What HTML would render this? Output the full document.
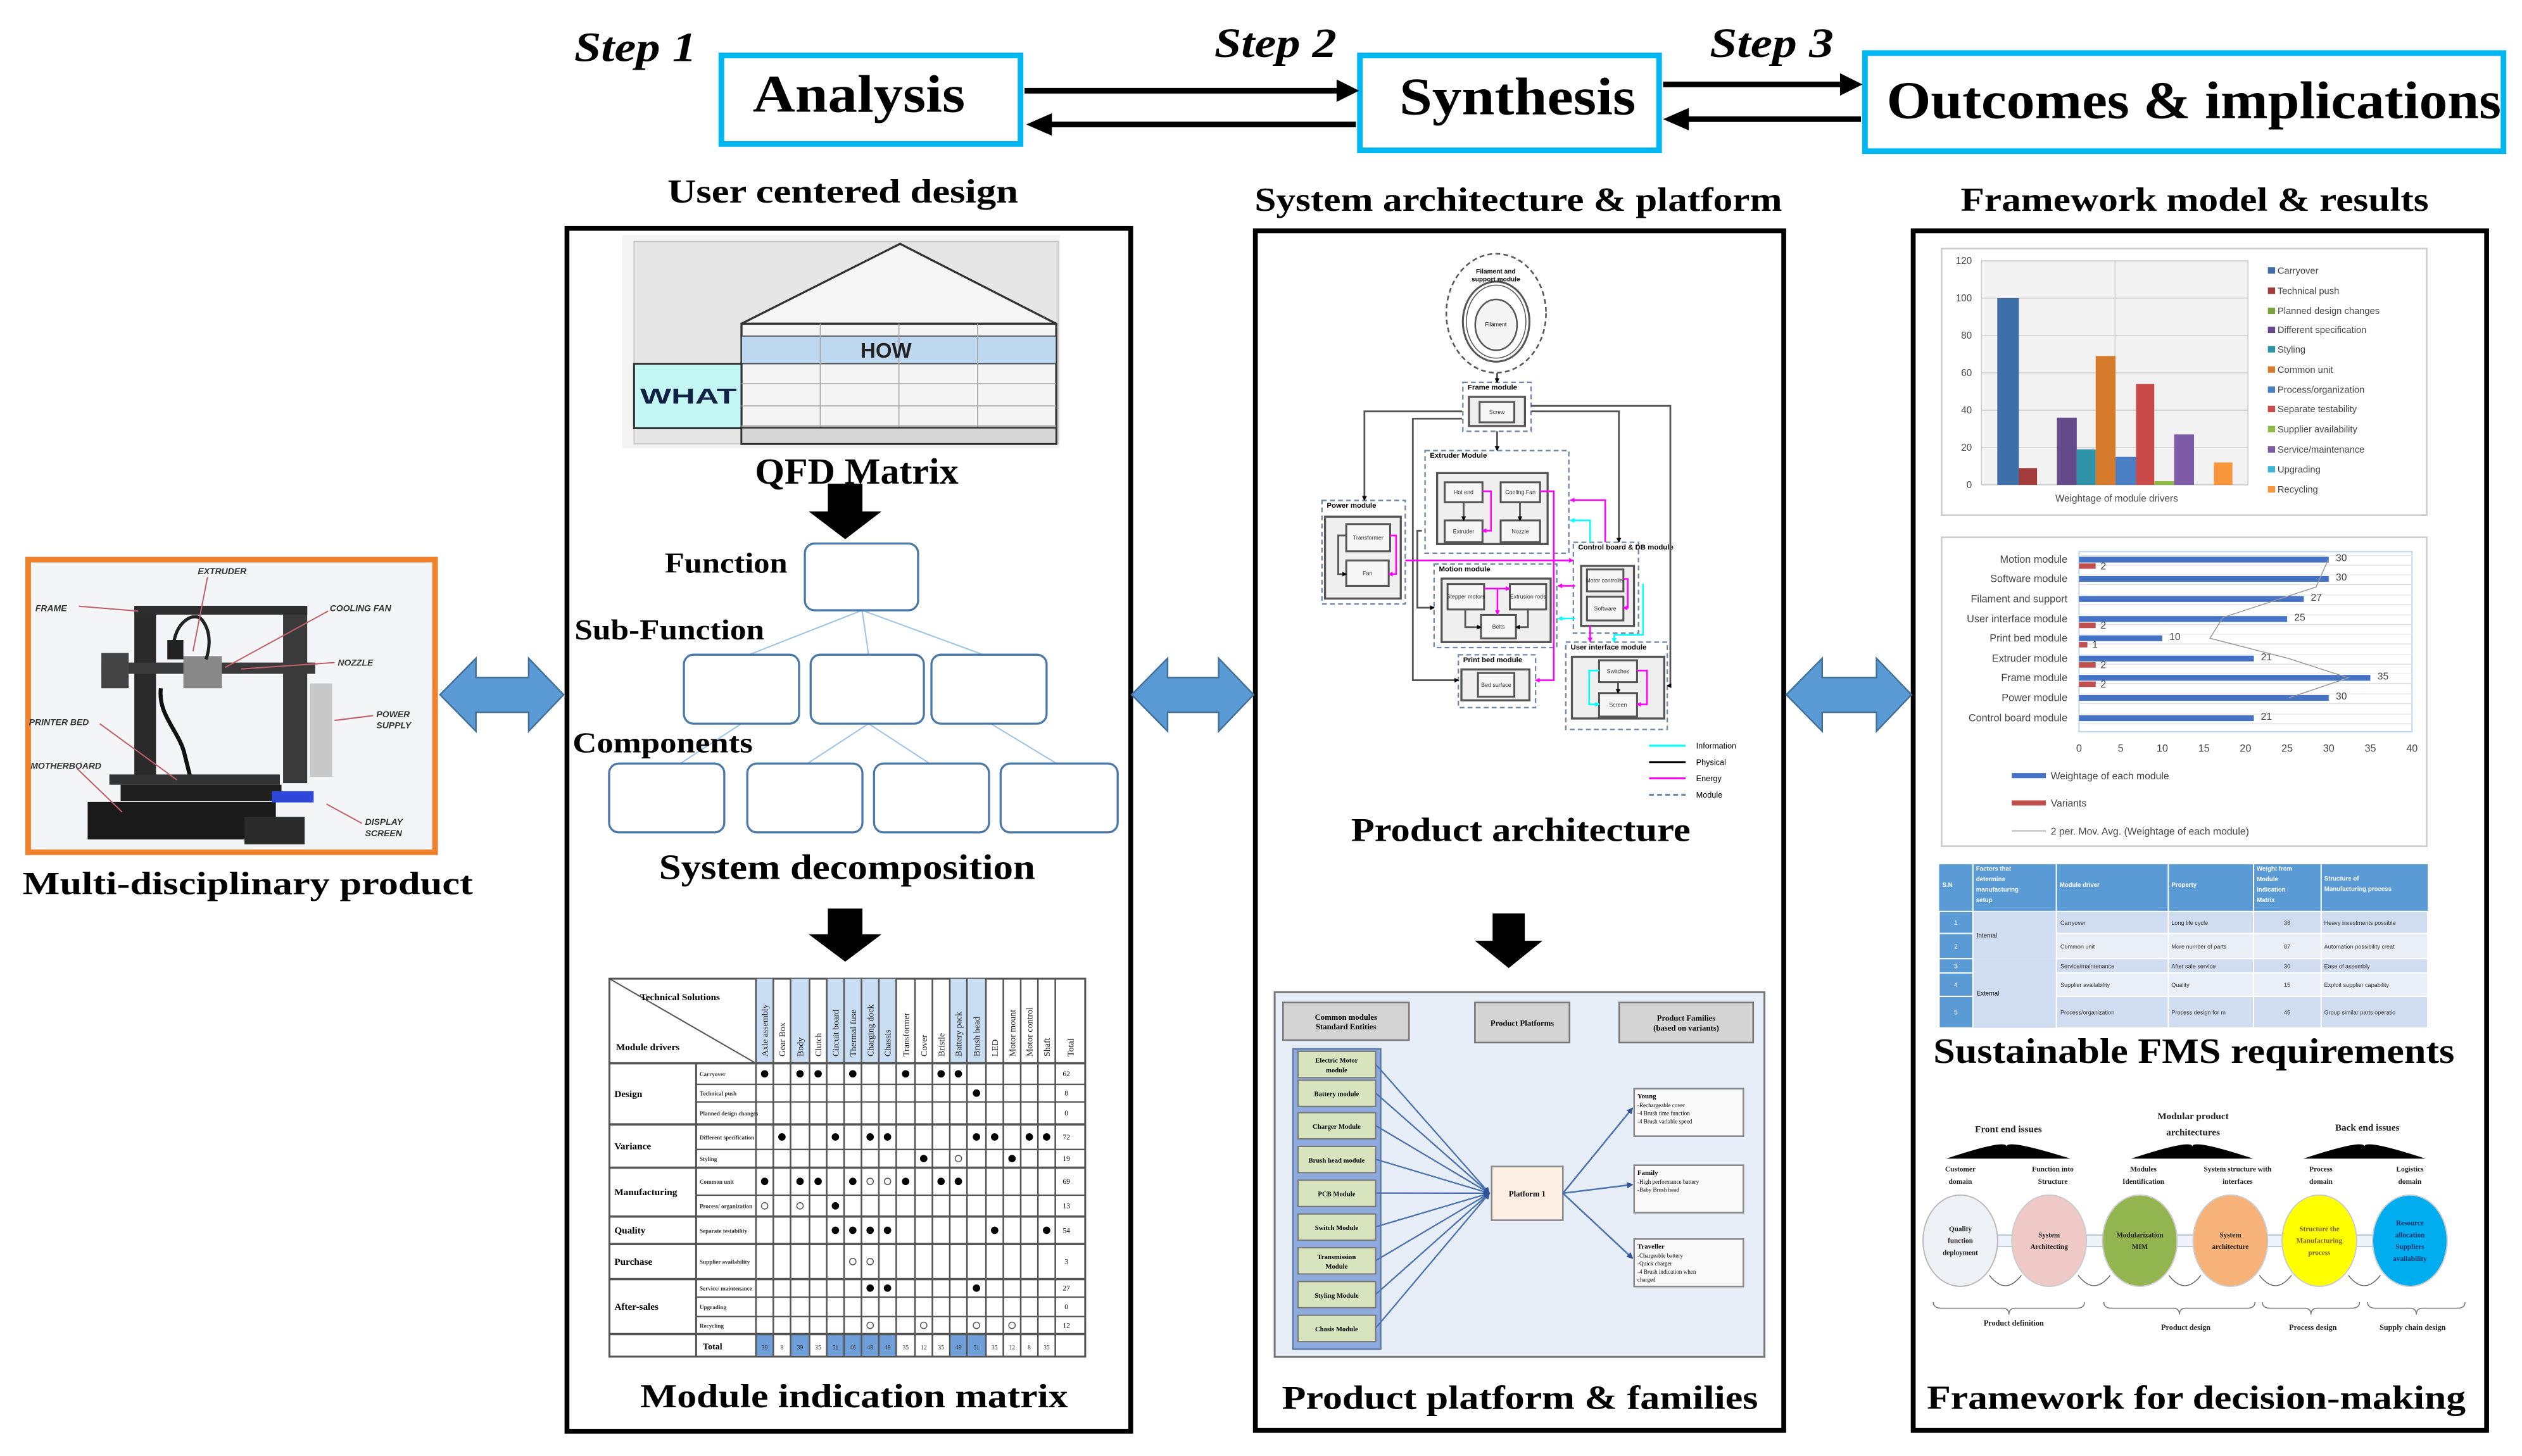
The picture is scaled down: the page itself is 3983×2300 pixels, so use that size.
<!DOCTYPE html>
<html><head><meta charset="utf-8">
<style>
html,body{margin:0;padding:0;background:#fff;}
svg{display:block;}
text{font-family:"Liberation Serif",serif;}
.s{font-family:"Liberation Sans",sans-serif;}
</style></head>
<body>
<svg id="g" xmlns="http://www.w3.org/2000/svg" width="3983" height="2300" viewBox="0 0 1568 905.4" preserveAspectRatio="none">
<defs>
<marker id="sm" markerWidth="3" markerHeight="3" refX="2.5" refY="1.5" orient="auto" markerUnits="userSpaceOnUse"><path d="M0,0 L3,1.5 L0,3 z" fill="#000"/></marker>
<marker id="smm" markerWidth="3" markerHeight="3" refX="2.5" refY="1.5" orient="auto" markerUnits="userSpaceOnUse"><path d="M0,0 L3,1.5 L0,3 z" fill="#f0f"/></marker>
<marker id="smc" markerWidth="3" markerHeight="3" refX="2.5" refY="1.5" orient="auto" markerUnits="userSpaceOnUse"><path d="M0,0 L3,1.5 L0,3 z" fill="#0ff"/></marker>
<marker id="sb" markerWidth="4" markerHeight="4" refX="3.5" refY="2" orient="auto" markerUnits="userSpaceOnUse"><path d="M0,0 L4,2 L0,4 z" fill="#2f5597"/></marker>
</defs>

<rect x="448.5" y="34.5" width="186" height="55" fill="#fff" stroke="#00b7f1" stroke-width="3.5"/>
<rect x="845.5" y="34.5" width="186" height="59" fill="#fff" stroke="#00b7f1" stroke-width="3.5"/>
<rect x="1159.5" y="33" width="397" height="61" fill="#fff" stroke="#00b7f1" stroke-width="3.5"/>
<text x="468" y="69.5" font-size="33" font-weight="bold" textLength="132" lengthAdjust="spacingAndGlyphs">Analysis</text>
<text x="870" y="71" font-size="33" font-weight="bold" textLength="147" lengthAdjust="spacingAndGlyphs">Synthesis</text>
<text x="1173" y="73.5" font-size="33" font-weight="bold" textLength="382" lengthAdjust="spacingAndGlyphs">Outcomes &amp; implications</text>
<text x="357" y="38" font-size="26" font-style="italic" font-weight="bold" textLength="76" lengthAdjust="spacingAndGlyphs">Step 1</text>
<text x="755" y="35.5" font-size="26" font-style="italic" font-weight="bold" textLength="76" lengthAdjust="spacingAndGlyphs">Step 2</text>
<text x="1063" y="35.5" font-size="26" font-style="italic" font-weight="bold" textLength="77" lengthAdjust="spacingAndGlyphs">Step 3</text>
<g stroke="#000" stroke-width="3.5">
<line x1="637" y1="56.4" x2="834" y2="56.4"/>
<line x1="652" y1="77.4" x2="843" y2="77.4"/>
<line x1="1034" y1="52.5" x2="1147" y2="52.5"/>
<line x1="1048" y1="74.1" x2="1157" y2="74.1"/>
</g>
<g fill="#000">
<polygon points="831,49.4 845,56.4 831,63.4"/>
<polygon points="654,70.4 638,77.4 654,84.4"/>
<polygon points="1144,45.5 1158,52.5 1144,59.5"/>
<polygon points="1050,67.1 1034,74.1 1050,81.1"/>
</g>

<text x="415" y="126" font-size="21" font-weight="bold" textLength="218" lengthAdjust="spacingAndGlyphs">User centered design</text>
<text x="780" y="131" font-size="21" font-weight="bold" textLength="328" lengthAdjust="spacingAndGlyphs">System architecture &amp; platform</text>
<text x="1219" y="131" font-size="21" font-weight="bold" textLength="291" lengthAdjust="spacingAndGlyphs">Framework model &amp; results</text>

<rect x="352.5" y="142" width="350.5" height="748" fill="none" stroke="#000" stroke-width="3"/>
<rect x="780.5" y="143.5" width="328.5" height="746" fill="none" stroke="#000" stroke-width="3"/>
<rect x="1189.5" y="143.5" width="356.5" height="746" fill="none" stroke="#000" stroke-width="3"/>

<rect x="17.5" y="348" width="253" height="182" fill="#f4f5f7" stroke="#f0822d" stroke-width="3.5"/>
<g id="printer">
<rect x="83.5" y="377" width="13.5" height="110" fill="#2a2a2a"/>
<rect x="176" y="377" width="15" height="110" fill="#3a3a3a"/>
<rect x="83.5" y="376.7" width="107.5" height="5.5" fill="#2d2d2d"/>
<rect x="192.8" y="425" width="13.7" height="58" fill="#c8c8c8"/>
<rect x="63" y="412" width="133" height="7" fill="#3a3a3a"/>
<rect x="63" y="406" width="17" height="22" fill="#444"/>
<rect x="114" y="408" width="24" height="20" fill="#888"/>
<rect x="104" y="398" width="10" height="12" fill="#222"/>
<path d="M108,400 C110,385 122,380 126,386 C132,394 130,405 128,410" fill="none" stroke="#222" stroke-width="2"/>
<path d="M100,428 C98,445 112,455 115,470 L118,482" fill="none" stroke="#111" stroke-width="2.5"/>
<rect x="68" y="481.6" width="106" height="6.4" fill="#333"/>
<rect x="75" y="488" width="100" height="10" fill="#1f1f1f"/>
<rect x="54.5" y="498.7" width="117" height="23.3" fill="#1a1a1a"/>
<rect x="152" y="508" width="37.4" height="17" fill="#2a2a2a"/>
<rect x="169" y="492" width="26" height="7" fill="#2d48d8"/>
<g stroke="#c0606a" stroke-width="0.8">
<line x1="49" y1="377" x2="86" y2="380"/>
<line x1="129" y1="359" x2="120" y2="405"/>
<line x1="204" y1="380" x2="140" y2="415"/>
<line x1="208" y1="412" x2="150" y2="416"/>
<line x1="62" y1="450" x2="110" y2="485"/>
<line x1="232" y1="445" x2="208" y2="448"/>
<line x1="48" y1="478" x2="76" y2="505"/>
<line x1="225" y1="512" x2="203" y2="500"/>
</g>
<g class="s" font-size="5.5" font-weight="bold" font-style="italic" fill="#333">
<text x="123" y="357" class="s">EXTRUDER</text>
<text x="22" y="380" class="s">FRAME</text>
<text x="205" y="380" class="s">COOLING FAN</text>
<text x="210" y="414" class="s">NOZZLE</text>
<text x="18" y="451" class="s">PRINTER BED</text>
<text x="234" y="446" class="s">POWER</text>
<text x="234" y="453" class="s">SUPPLY</text>
<text x="19" y="478" class="s">MOTHERBOARD</text>
<text x="227" y="513" class="s">DISPLAY</text>
<text x="227" y="520" class="s">SCREEN</text>
</g>
</g>
<text x="14" y="556" font-size="20" font-weight="bold" textLength="280" lengthAdjust="spacingAndGlyphs">Multi-disciplinary product</text>

<g fill="#5b9bd5" stroke="#41719c" stroke-width="1">
<polygon points="273.6,432 295.9,409.4 295.9,421.3 328.7,421.3 328.7,409.4 350.4,432 328.7,454.7 328.7,442.9 295.9,442.9 295.9,454.7"/>
<polygon points="703.6,432 725.9,409.4 725.9,421.3 757.7,421.3 757.7,409.4 779.4,432 757.7,454.7 757.7,442.9 725.9,442.9 725.9,454.7"/>
<polygon points="1110.6,432 1132.9,409.4 1132.9,421.3 1166.7,421.3 1166.7,409.4 1188.4,432 1166.7,454.7 1166.7,442.9 1132.9,442.9 1132.9,454.7"/>
</g>

<rect x="387" y="146" width="272" height="132.7" fill="#f4f4f4"/>
<rect x="394.2" y="150.2" width="263.7" height="125.8" fill="#e6e6e6" stroke="#c8c8c8" stroke-width="0.8"/>
<polygon points="461,201.3 559.6,151.6 656.7,201.3" fill="#f6f6f6" stroke="#333" stroke-width="1.3"/>
<rect x="461" y="201.3" width="195.7" height="74.7" fill="#f5f5f5" stroke="#333" stroke-width="1.3"/>
<rect x="461" y="209" width="195.7" height="17.2" fill="#bdd7ee" stroke="#333" stroke-width="0.6"/>
<rect x="394.2" y="226.2" width="66.8" height="40.1" fill="#c3f7f4" stroke="#333" stroke-width="1.2"/>
<g stroke="#aaa" stroke-width="0.7">
<line x1="461" y1="238.6" x2="656.7" y2="238.6"/><line x1="461" y1="252.4" x2="656.7" y2="252.4"/><line x1="461" y1="264.9" x2="656.7" y2="264.9"/>
<line x1="510" y1="201.3" x2="510" y2="276"/><line x1="558.9" y1="201.3" x2="558.9" y2="276"/><line x1="607.8" y1="201.3" x2="607.8" y2="276"/>
</g>
<rect x="461" y="266" width="195.7" height="10" fill="#d6d6d6" stroke="#333" stroke-width="1"/>
<text x="535" y="222.5" class="s" font-size="13" font-weight="bold" fill="#222">HOW</text>
<text x="398" y="251" class="s" font-size="13.5" font-weight="bold" fill="#124" textLength="60" lengthAdjust="spacingAndGlyphs">WHAT</text>
<text x="469.4" y="300.8" font-size="23" font-weight="bold" textLength="126.5" lengthAdjust="spacingAndGlyphs">QFD Matrix</text>

<polygon points="514.7,300.8 536.2,300.8 536.2,318 548.1,318 525.5,335.3 502.8,318 514.7,318" fill="#000"/>
<polygon points="514.7,565 536.2,565 536.2,581 548.1,581 525.5,598 502.8,581 514.7,581" fill="#000"/>
<polygon points="928,568 948,568 948,585 959,585 938,602 917,585 928,585" fill="#000"/>

<g stroke="#9dc3e6" stroke-width="0.8">
<line x1="536" y1="379.5" x2="466" y2="407"/><line x1="536" y1="379.5" x2="540" y2="407"/><line x1="536" y1="379.5" x2="611" y2="407"/>
<line x1="461" y1="450" x2="423" y2="474.8"/><line x1="540" y1="450" x2="502" y2="474.8"/><line x1="540" y1="450" x2="578" y2="474.8"/><line x1="616" y1="450" x2="657" y2="474.8"/>
</g>
<g fill="#fff" stroke="#4a78a8" stroke-width="1.3">
<rect x="500.4" y="338" width="70.4" height="41.5" rx="6"/>
<rect x="425.2" y="407.1" width="71.6" height="42.9" rx="6"/>
<rect x="504" y="407.1" width="70.4" height="42.9" rx="6"/>
<rect x="579.1" y="407.1" width="71.6" height="42.9" rx="6"/>
<rect x="378.7" y="474.8" width="71.6" height="42.8" rx="6"/>
<rect x="464.6" y="474.8" width="71.6" height="42.8" rx="6"/>
<rect x="543.4" y="474.8" width="71.5" height="42.8" rx="6"/>
<rect x="622.1" y="474.8" width="72.8" height="42.8" rx="6"/>
</g>
<text x="413.3" y="356" font-size="18" font-weight="bold" textLength="76.3" lengthAdjust="spacingAndGlyphs">Function</text>
<text x="357.2" y="397.5" font-size="18" font-weight="bold" textLength="118" lengthAdjust="spacingAndGlyphs">Sub-Function</text>
<text x="356" y="467.9" font-size="18" font-weight="bold" textLength="112" lengthAdjust="spacingAndGlyphs">Components</text>
<text x="409.7" y="546.6" font-size="22" font-weight="bold" textLength="233.9" lengthAdjust="spacingAndGlyphs">System decomposition</text>

<g id="mim"></g>
<text x="398" y="875" font-size="21" font-weight="bold" textLength="266" lengthAdjust="spacingAndGlyphs">Module indication matrix</text>

<g id="arch"></g>
<text x="840" y="523" font-size="21" font-weight="bold" textLength="211" lengthAdjust="spacingAndGlyphs">Product architecture</text>

<g id="plat"></g>
<text x="797" y="876" font-size="21" font-weight="bold" textLength="296" lengthAdjust="spacingAndGlyphs">Product platform  &amp; families</text>

<g id="ch"></g>
<text x="1202" y="661" font-size="22" font-weight="bold" textLength="324" lengthAdjust="spacingAndGlyphs">Sustainable FMS requirements</text>
<g id="fw"></g>
<text x="1198" y="876" font-size="21" font-weight="bold" textLength="335" lengthAdjust="spacingAndGlyphs">Framework for decision-making</text>
</svg>
<script>
var NS="http://www.w3.org/2000/svg";
function E(p,tag,a,t){var e=document.createElementNS(NS,tag);for(var k in a)e.setAttribute(k,a[k]);if(t!==undefined)e.textContent=t;document.getElementById(p).appendChild(e);return e;}
(function(){
var P="mim";
var L=378.9,R=674.7,T=608.6,B=843.6,H=661.2;
E(P,"rect",{x:L,y:T,width:R-L,height:B-T,fill:"#fff",stroke:"#555","stroke-width":1.2});
var cx=[470,480.8,491.5,503.3,514,524.8,535.6,546.4,557.2,568.9,579.7,590.5,601.2,613,623.8,634.6,645.3,656.1,674.7];
var blue=[0,2,4,5,6,7,11,12];
var rows=[661.2,674.3,685.2,699.2,714.8,726.1,743.2,756.5,773.6,795.4,806.6,818.7,829.6,843.6];
blue.forEach(function(c){E(P,"rect",{x:cx[c],y:T,width:cx[c+1]-cx[c],height:H-T,fill:"#c9ddf3"});E(P,"rect",{x:cx[c],y:829.6,width:cx[c+1]-cx[c],height:14,fill:"#6f9fd8"});});
for(var i=0;i<cx.length;i++)E(P,"line",{x1:cx[i],y1:T,x2:cx[i],y2:B,stroke:"#555","stroke-width":1});
var thick=[0,3,5,7,8,9,12];
rows.forEach(function(y,i){E(P,"line",{x1:(thick.indexOf(i)>=0?L:432.8),y1:y,x2:R,y2:y,stroke:"#555","stroke-width":thick.indexOf(i)>=0?1.4:0.9});});
E(P,"line",{x1:432.8,y1:H,x2:432.8,y2:B,stroke:"#555","stroke-width":1.2});
E(P,"line",{x1:L,y1:T,x2:470,y2:H,stroke:"#555","stroke-width":0.8});
E(P,"text",{x:398,y:622,"font-size":6,"font-weight":"bold"},"Technical Solutions");
E(P,"text",{x:383,y:653,"font-size":6,"font-weight":"bold"},"Module drivers");
var tech=["Axle assembly","Gear Box","Body","Clutch","Circuit board","Thermal fuse","Charging dock","Chassis","Transformer","Cover","Bristle","Battery pack","Brush head","LED","Motor mount","Motor control","Shaft"];
for(var c=0;c<17;c++){var x=(cx[c]+cx[c+1])/2+2;E(P,"text",{x:x,y:657,"font-size":5.5,transform:"rotate(-90 "+x+" 657)","fill":"#222"},tech[c]);}
var xt=(cx[17]+cx[18])/2+2;E(P,"text",{x:xt,y:657,"font-size":5.5,transform:"rotate(-90 "+xt+" 657)"},"Total");
var groups=[["Design",0,3],["Variance",3,5],["Manufacturing",5,7],["Quality",7,8],["Purchase",8,9],["After-sales",9,12]];
groups.forEach(function(g){E(P,"text",{x:382,y:(rows[g[1]]+rows[g[2]])/2+2,"font-size":6,"font-weight":"bold"},g[0]);});
var subs=["Carryover","Technical push","Planned design changes","Different specification","Styling","Common unit","Process/ organization","Separate testability","Supplier availability","Service/ maintenance","Upgrading","Recycling"];
subs.forEach(function(s,i){E(P,"text",{x:435,y:(rows[i]+rows[i+1])/2+1.5,"font-size":3.6,"font-weight":"bold",fill:"#333"},s);});
E(P,"text",{x:437,y:839,"font-size":5.5,"font-weight":"bold"},"Total");
var tot=["62","8","0","72","19","69","13","54","3","27","0","12"];
tot.forEach(function(s,i){E(P,"text",{x:663,y:(rows[i]+rows[i+1])/2+1.5,"font-size":4.5,"text-anchor":"middle"},s);});
var F={0:[0,2,3,5,8,10,11],1:[12],3:[1,4,6,7,12,13,15,16],4:[9,14],5:[0,2,3,5,8,10,11],6:[4],7:[4,5,6,7,13,16],9:[6,7,12]};
var O={4:[11],5:[6,7],6:[0,2],8:[5,6],11:[6,9,12,14]};
function cc(c){return (cx[c]+cx[c+1])/2;}
for(var r in F)F[r].forEach(function(c){E(P,"circle",{cx:cc(c),cy:(rows[r]+rows[+r+1])/2,r:2.3,fill:"#000"});});
for(var r in O)O[r].forEach(function(c){E(P,"circle",{cx:cc(c),cy:(rows[r]+rows[+r+1])/2,r:2,fill:"none",stroke:"#555","stroke-width":0.6});});
var tv=["39","8","39","35","51","46","48","48","35","12","35","48","51","35","12","8","35"];
for(var c=0;c<17;c++)E(P,"text",{x:cc(c),y:839,"font-size":3.8,"text-anchor":"middle",fill:"#333"},tv[c]);
})();
(function(){
var P="arch";
function dbox(x1,y1,x2,y2,lab){E(P,"rect",{x:x1,y:y1,width:x2-x1,height:y2-y1,fill:"none",stroke:"#6f87a8","stroke-width":0.9,"stroke-dasharray":"3,2"});if(lab)E(P,"text",{x:x1+3,y:y1+4.5,"font-size":4.5,"font-weight":"bold",class:"s"},lab);}
function gbox(x1,y1,x2,y2){E(P,"rect",{x:x1,y:y1,width:x2-x1,height:y2-y1,fill:"#efefef",stroke:"#555","stroke-width":1.3});}
function ibox(x1,y1,x2,y2,lab){E(P,"rect",{x:x1,y:y1,width:x2-x1,height:y2-y1,fill:"#f7f7f7",stroke:"#555","stroke-width":1.2});E(P,"text",{x:(x1+x2)/2,y:(y1+y2)/2+1.2,"font-size":3.5,"text-anchor":"middle",class:"s",fill:"#333"},lab);}
function ln(pts,col,mk){E(P,"polyline",{points:pts,fill:"none",stroke:col,"stroke-width":col=="#555"?1.1:1,"marker-end":"url(#"+mk+")"});}
E(P,"ellipse",{cx:930.2,cy:194.8,rx:31,ry:37,fill:"none",stroke:"#555","stroke-width":1,"stroke-dasharray":"3,2"});
E(P,"ellipse",{cx:930.2,cy:200,rx:20.7,ry:24.9,fill:"none",stroke:"#555","stroke-width":1.2});
E(P,"ellipse",{cx:930.2,cy:200,rx:18.5,ry:22.7,fill:"none",stroke:"#555","stroke-width":0.6});
E(P,"ellipse",{cx:930.2,cy:202,rx:13,ry:15.8,fill:"#f5f5f5",stroke:"#555","stroke-width":1});
E(P,"text",{x:930,y:170,"font-size":4,"text-anchor":"middle",class:"s","font-weight":"bold"},"Filament and");
E(P,"text",{x:930,y:175,"font-size":4,"text-anchor":"middle",class:"s","font-weight":"bold"},"support module");
E(P,"text",{x:930,y:203,"font-size":3.5,"text-anchor":"middle",class:"s"},"Filament");
dbox(909.5,237.7,951.9,268.2,"Frame module");
gbox(913.3,246.8,948.1,264.9);ibox(919.9,250,941.5,262.6,"Screw");
dbox(886,280.2,975.4,344,"Extruder Module");
gbox(893.5,294.2,962.2,338.3);
ibox(898.2,299.9,921.7,312.3,"Hot end");ibox(933,299.9,957.5,312.3,"Cooling Fan");
ibox(898.2,323.6,921.7,337.2,"Extruder");ibox(933,323.6,957.5,337.2,"Nozzle");
dbox(821.9,311.2,873.7,375.6,"Power module");
gbox(823.8,321.3,870.9,372.2);
ibox(837,325.9,864.3,342.8,"Transformer");ibox(837,348.5,863.4,364.3,"Fan");
dbox(891.6,350.7,967.9,402.7,"Motion module");
gbox(896.3,359.8,964.1,399.3);
ibox(900,363.2,922.7,379,"Stepper motors");ibox(938.7,363.2,961.3,379,"Extrusion rods");ibox(920.8,382.4,942.5,397,"Belts");
dbox(906.7,407.2,954.7,440,"Print bed module");
gbox(908.6,416.3,950.9,435.5);ibox(918.9,418.5,941.5,433.2,"Bed surface");
dbox(978.2,337.2,1018.7,393.7,"Control board & DB module");
gbox(983,351.9,1015.9,389.2);
ibox(986.7,354.1,1009.3,367.7,"Motor controller");ibox(986.7,371,1009.3,385.8,"Software");
dbox(973.5,399.3,1036.6,453.6,"User interface module");
gbox(977.3,408.4,1034.7,446.8);
ibox(994.2,410.6,1017.8,424.2,"Switches");ibox(994.2,431,1017.8,445.6,"Screen");
var k="#555";
ln("930.8,232 930.8,237.7",k,"sm");
ln("930.8,268.2 930.8,280",k,"sm");
ln("909,255.8 848.3,255.8 848.3,311",k,"sm");
ln("909,260.3 878.4,260.3 878.4,423 906.7,423",k,"sm");
ln("884,330 881.2,330 881.2,377.9 891.6,377.9",k,"sm");
ln("952,255.8 1006.5,255.8 1006.5,337",k,"sm");
ln("952,252.4 1038.5,252.4 1038.5,426.4 1036.6,426.4",k,"sm");
ln("910,312 910,323.6",k,"sm");ln("945,312 945,323.6",k,"sm");ln("1006,424.2 1006,431",k,"sm");
ln("911,379 911,390 920.8,390",k,"sm");ln("950,379 950,390 942.5,390",k,"sm");
var m="#f0f",c="#0ff";
ln("873.7,348.5 978,348.5",m,"smm");
ln("957.5,305.5 966,305.5 966,423 954.7,423",m,"smm");
ln("921.7,305.5 927,305.5 927,330 921.7,330",m,"smm");
ln("998,337 998,311 976.4,311",m,"smm");
ln("988.6,337 988.6,323.6 976.4,323.6",c,"smc");
ln("979.2,364.3 968.8,364.3",m,"smm");
ln("979.2,384.6 968.8,384.6",c,"smc");
ln("1021.5,363 1021.5,394.8 1003.6,394.8 1003.6,399.3",c,"smc");
ln("988.6,389 988.6,399",m,"smm");
ln("922.7,366 938.7,366",m,"smm");ln("931,366 931,382",m,"smm");
ln("864.3,333 868,333 868,357 863.4,357",m,"smm");
ln("1009.3,360 1012,360 1012,378 1009.3,378",m,"smm");
ln("1017.8,417 1024,417 1024,438 1017.8,438",m,"smm");
ln("994.2,417 988,417 988,438 994.2,438",c,"smc");
ln("837,333 832,333 832,357 837,357",k,"sm");
var leg=[["#0ff","Information"],["#000","Physical"],["#f0f","Energy"],["#6f87a8","Module"]],ly=[463.7,473.9,484,494.2];
leg.forEach(function(l,i){var a={x1:1025.3,y1:ly[i],x2:1048,y2:ly[i],stroke:l[0],"stroke-width":1.2};if(i==3)a["stroke-dasharray"]="3,2";E(P,"line",a);E(P,"text",{x:1054.5,y:ly[i]+1.8,"font-size":5,class:"s"},l[1]);});
})();
(function(){
var P="plat";
E(P,"rect",{x:792.5,y:617,width:304.5,height:226.7,fill:"#e8eef8",stroke:"#777","stroke-width":1.2});
function hb(x1,y1,x2,y2,l1,l2){E(P,"rect",{x:x1,y:y1,width:x2-x1,height:y2-y1,fill:"#d4d4d4",stroke:"#777","stroke-width":1});var cx=(x1+x2)/2;if(l2){E(P,"text",{x:cx,y:(y1+y2)/2-1,"font-size":5,"text-anchor":"middle","font-weight":"bold"},l1);E(P,"text",{x:cx,y:(y1+y2)/2+5,"font-size":5,"text-anchor":"middle","font-weight":"bold"},l2);}else E(P,"text",{x:cx,y:(y1+y2)/2+2,"font-size":5,"text-anchor":"middle","font-weight":"bold"},l1);}
hb(797.7,623.4,876,646.8,"Common modules","Standard Entities");
hb(917,623.4,975.8,648.3,"Product Platforms");
hb(1006.7,623.4,1090,648.3,"Product Families","(based on variants)");
E(P,"rect",{x:803.9,y:652.2,width:54.5,height:186.8,fill:"#8faadc",stroke:"#5d7aa8","stroke-width":1});
var tops=[653.8,671.7,691.9,712.9,733.9,754.9,775.9,796.9,817.9];
var labs=[["Electric Motor","module"],["Battery module"],["Charger Module"],["Brush head module"],["PCB Module"],["Switch Module"],["Transmission","Module"],["Styling Module"],["Chasis Module"]];
tops.forEach(function(t,i){E(P,"line",{x1:855.3,y1:t+8,x2:926,y2:742,stroke:"#4a72b0","stroke-width":0.9,"marker-end":"url(#sb)"});});
tops.forEach(function(t,i){E(P,"rect",{x:807,y:t,width:48.3,height:16.3,fill:"#d7e4bd",stroke:"#777","stroke-width":0.8});var l=labs[i];if(l.length==2){E(P,"text",{x:831,y:t+7,"font-size":4.2,"text-anchor":"middle","font-weight":"bold"},l[0]);E(P,"text",{x:831,y:t+13,"font-size":4.2,"text-anchor":"middle","font-weight":"bold"},l[1]);}else E(P,"text",{x:831,y:t+10,"font-size":4.2,"text-anchor":"middle","font-weight":"bold"},l[0]);});
E(P,"rect",{x:927.4,y:725.4,width:44.3,height:33.4,fill:"#fdefe4",stroke:"#888","stroke-width":1});
E(P,"text",{x:949.5,y:744,"font-size":5,"text-anchor":"middle","font-weight":"bold"},"Platform 1");
var fam=[[677,"Young",["-Rechargeable cover","-4 Brush time function","-4 Brush variable speed"]],[724.6,"Family",["-High performance battery","-Baby Brush head"]],[770.5,"Traveller",["-Chargeable battery","-Quick charger","-4 Brush indication when","charged"]]];
fam.forEach(function(f){E(P,"line",{x1:971.7,y1:742,x2:1015,y2:f[0]+12,stroke:"#4a72b0","stroke-width":1,"marker-end":"url(#sb)"});E(P,"rect",{x:1016,y:f[0],width:67.9,height:29.5,fill:"#fafafa",stroke:"#888","stroke-width":1});E(P,"text",{x:1018,y:f[0]+6,"font-size":4.3,"font-weight":"bold"},f[1]);f[2].forEach(function(s,j){E(P,"text",{x:1018,y:f[0]+11.5+j*5,"font-size":3.6},s);});});
})();
(function(){
var P="ch";
E(P,"rect",{x:1207.2,y:154.6,width:301.6,height:165.7,fill:"#fff",stroke:"#ccc","stroke-width":1});
E(P,"rect",{x:1231.9,y:162.2,width:165.7,height:139.3,fill:"#f2f2f2",stroke:"#ccc","stroke-width":0.6});
for(var v=0;v<=120;v+=20){var y=301.5-v*1.161;E(P,"line",{x1:1231.9,y1:y,x2:1397.6,y2:y,stroke:"#d0d0d0","stroke-width":0.6});E(P,"text",{x:1226,y:y+2,"font-size":6,"text-anchor":"end",class:"s",fill:"#444"},""+v);}
E(P,"line",{x1:1315,y1:162.2,x2:1315,y2:301.5,stroke:"#d0d0d0","stroke-width":0.6});
var bars=[[218,283,100,"#3c6ea8"],[283,338,9,"#a33b3a"],[398,458,36,"#644a8a"],[458,515,19,"#2e93a8"],[515,575,69,"#d67b2c"],[575,637,15,"#4a7fc6"],[637,692,54,"#c94a48"],[692,752,2,"#8dbb45"],[752,812,27,"#7d5ba6"],[872,928,12,"#f7963b"]];
bars.forEach(function(b){var x1=1196.9+b[0]/4.857,x2=1196.9+b[1]/4.857,h=b[2]*1.161;E(P,"rect",{x:x1,y:301.5-h,width:x2-x1,height:h,fill:b[3]});});
E(P,"text",{x:1316,y:312,"font-size":6,"text-anchor":"middle",class:"s",fill:"#444"},"Weightage of module drivers");
var lg=[["#3c6ea8","Carryover"],["#a33b3a","Technical push"],["#7ba33c","Planned design changes"],["#644a8a","Different specification"],["#2e93a8","Styling"],["#d67b2c","Common unit"],["#4a7fc6","Process/organization"],["#c94a48","Separate testability"],["#8dbb45","Supplier availability"],["#7d5ba6","Service/maintenance"],["#3fb4d4","Upgrading"],["#f7963b","Recycling"]];
var ly=[168.4,181,193.5,205.3,217.4,230,242.5,254.5,267,279.7,292,304.5];
lg.forEach(function(l,i){E(P,"rect",{x:1410,y:ly[i]-2.2,width:4.5,height:4,fill:l[0]});E(P,"text",{x:1416,y:ly[i]+1.8,"font-size":5.8,class:"s",fill:"#444"},l[1]);});
E(P,"rect",{x:1207.2,y:334.1,width:301.6,height:192.1,fill:"#fff",stroke:"#ccc","stroke-width":1});
E(P,"rect",{x:1292.6,y:343,width:207,height:112,fill:"#fff",stroke:"#bdd7ee","stroke-width":0.8});
var ry=[348,360,372.5,384.9,396.9,409.5,421.5,434,446.6];
var names=["Motion module","Software module","Filament and support","User interface module","Print bed module","Extruder module","Frame module","Power module","Control board module"];
var vals=[30,30,27,25,10,21,35,30,21],var2=[2,0,0,2,1,2,2,0,0];
ry.forEach(function(y,i){E(P,"line",{x1:1292.6,y1:y+3.5,x2:1499.6,y2:y+3.5,stroke:"#e0e0e0","stroke-width":0.6});E(P,"line",{x1:1292.6,y1:y-2.5,x2:1499.6,y2:y-2.5,stroke:"#e8e8e8","stroke-width":0.5});
E(P,"rect",{x:1292.6,y:y-1.8,width:vals[i]*5.175,height:3.6,fill:"#4472c4"});
E(P,"text",{x:1295+vals[i]*5.175+2,y:y+1,"font-size":6.2,class:"s",fill:"#444"},""+vals[i]);
if(var2[i]){E(P,"rect",{x:1292.6,y:y+2.3,width:var2[i]*5.175,height:3.4,fill:"#c0504d"});E(P,"text",{x:1292.6+var2[i]*5.175+3,y:y+6,"font-size":6.2,class:"s",fill:"#444"},""+var2[i]);}
E(P,"text",{x:1285.4,y:y+2,"font-size":6.4,"text-anchor":"end",class:"s",fill:"#444"},names[i]);});
for(var t=0;t<=40;t+=5)E(P,"text",{x:1292.6+t*5.175,y:467.5,"font-size":6.4,"text-anchor":"middle",class:"s",fill:"#444"},""+t);
E(P,"polyline",{points:"1447.5,348 1440,365 1382,384 1374,396.9 1423,409.5 1460,421.5 1423,434",fill:"none",stroke:"#999","stroke-width":0.6});
E(P,"line",{x1:1250.8,y1:482.3,x2:1272,y2:482.3,stroke:"#4472c4","stroke-width":3.2});
E(P,"text",{x:1275,y:484.5,"font-size":6.2,class:"s",fill:"#444"},"Weightage of each module");
E(P,"line",{x1:1250.8,y1:499.3,x2:1272,y2:499.3,stroke:"#c0504d","stroke-width":3.2});
E(P,"text",{x:1275,y:501.5,"font-size":6.2,class:"s",fill:"#444"},"Variants");
E(P,"line",{x1:1250.8,y1:516.7,x2:1272,y2:516.7,stroke:"#999","stroke-width":0.6});
E(P,"text",{x:1275,y:519,"font-size":6.2,class:"s",fill:"#444"},"2 per. Mov. Avg. (Weightage of each module)");
var cxs=[1205.6,1226.6,1278.5,1348.1,1401.1,1443.1,1509.4];
var rys=[566.8,580.5,596.1,605,619.6,639.2];
E(P,"rect",{x:1205.6,y:537.4,width:303.8,height:29.4,fill:"#5b9bd5"});
var rf=["#d0dcef","#e9eef7","#d0dcef","#e9eef7","#d0dcef"];
for(var r=0;r<5;r++){E(P,"rect",{x:1226.6,y:rys[r],width:282.8,height:rys[r+1]-rys[r],fill:rf[r],stroke:"#fff","stroke-width":0.8});E(P,"rect",{x:1205.6,y:rys[r],width:21,height:rys[r+1]-rys[r],fill:"#5b9bd5",stroke:"#fff","stroke-width":0.8});E(P,"text",{x:1216,y:(rys[r]+rys[r+1])/2+1.5,"font-size":4,"text-anchor":"middle",fill:"#fff",class:"s"},""+(r+1));}
E(P,"rect",{x:1226.6,y:566.8,width:51.9,height:29.3,fill:"#d0dcef"});E(P,"rect",{x:1226.6,y:596.1,width:51.9,height:43.1,fill:"#d0dcef"});
for(var c=1;c<6;c++)E(P,"line",{x1:cxs[c],y1:537.4,x2:cxs[c],y2:639.2,stroke:"#fff","stroke-width":0.8});
var hd=[["S.N"],["Factors that","determine","manufacturing","setup"],["Module driver"],["Property"],["Weight from","Module","Indication","Matrix"],["Structure of","Manufacturing  process"]];
hd.forEach(function(h,i){h.forEach(function(s,j){E(P,"text",{x:cxs[i]+2,y:541.5+j*6.5+(h.length==1?10:h.length==2?6:0),"font-size":3.8,fill:"#fff","font-weight":"bold",class:"s"},s);});});
E(P,"text",{x:1229,y:583,"font-size":3.8,class:"s"},"Internal");E(P,"text",{x:1229,y:619,"font-size":3.8,class:"s"},"External");
var cells=[["Carryover","Long life cycle","38","Heavy investments possible"],["Common unit","More number of parts","87","Automation possibility creates economy of scale"],["Service/maintenance","After sale service","30","Ease of assembly"],["Supplier availability","Quality","15","Exploit supplier capability"],["Process/organization","Process design for manufacturing parts","45","Group similar parts operations together, increase productivity"]];
cells.forEach(function(cl,r){var y=(rys[r]+rys[r+1])/2+1.5;E(P,"text",{x:1281,y:y,"font-size":3.6,class:"s",fill:"#333"},cl[0]);E(P,"text",{x:1350,y:y,"font-size":3.6,class:"s",fill:"#333"},cl[1].length>20?cl[1].slice(0,20):cl[1]);E(P,"text",{x:1422,y:y,"font-size":3.6,class:"s","text-anchor":"middle",fill:"#333"},cl[2]);E(P,"text",{x:1445,y:y,"font-size":3.6,class:"s",fill:"#333"},cl[3].length>28?cl[3].slice(0,28):cl[3]);});
})();
(function(){
var P="fw";
function t(x,y,s,sz,col){E(P,"text",{x:x,y:y,"font-size":sz||5,"text-anchor":"middle","font-weight":"bold",fill:col||"#222"},s);}
t(1248.7,704,"Front end issues",6);t(1363.5,696,"Modular product",6);t(1363.5,706,"architectures",6);t(1471.8,703,"Back end issues",6);
[[1210,1247.5,1287.3],[1325,1363,1401],[1432,1470,1508]].forEach(function(a){E(P,"path",{d:"M"+a[0]+",720.5 Q"+a[1]+",708 "+a[1]+",713 Q"+a[1]+",708 "+a[2]+",720.5 Z",fill:"#000"});});
var sub=[[1218.8,"Customer","domain"],[1276.3,"Function into","Structure"],[1332.6,"Modules","Identification"],[1391.2,"System structure with","interfaces"],[1443,"Process","domain"],[1498.3,"Logistics","domain"]];
sub.forEach(function(s){t(s[0],728.4,s[1],4.5);t(s[0],736.2,s[2],4.5);});
var cx=[1218.8,1274,1330.4,1386.7,1442,1498.3],col=["#eef1f6","#efc9c5","#93b550","#f7b27a","#ffff00","#00aeef"];
var lab=[["Quality","function","deployment"],["System","Architecting"],["Modularization","MIM"],["System","architecture"],["Structure the","Manufacturing","process"],["Resource","allocation","Suppliers","availability"]];
for(var i=0;i<5;i++){E(P,"rect",{x:cx[i]+22,y:768,width:12,height:7,fill:"#eef3fb",stroke:"#9ab","stroke-width":0.5});E(P,"path",{d:"M"+(cx[i]+18)+",793 Q"+(cx[i]+28)+",806 "+(cx[i]+38)+",793",fill:"none",stroke:"#666","stroke-width":0.6});}
cx.forEach(function(x,i){E(P,"ellipse",{cx:x,cy:771.5,rx:23.2,ry:28.4,fill:col[i],stroke:i==0?"#bbb":"#ccc","stroke-width":0.8});var L=lab[i];L.forEach(function(s,j){t(x,771.5-(L.length-1)*3.7+j*7.4+1.5,s,4.4,i==4?"#7a6000":i==5?"#06306a":"#222");});});
[[1202,1296,1252,"Product definition",824.4],[1308,1402,1359,"Product design",827],[1406.6,1467,1438,"Process design",827],[1472,1532.6,1500,"Supply chain design",827]].forEach(function(b){var m=(b[0]+b[1])/2;E(P,"path",{d:"M"+b[0]+",809.7 Q"+b[0]+",813.5 "+(b[0]+5)+",813.5 L"+(m-4)+",813.5 Q"+m+",813.5 "+m+",817.5 Q"+m+",813.5 "+(m+4)+",813.5 L"+(b[1]-5)+",813.5 Q"+b[1]+",813.5 "+b[1]+",809.7",fill:"none",stroke:"#777","stroke-width":0.6});t(b[2],b[4],b[3],4.8);});
})();
</script>
</body></html>
